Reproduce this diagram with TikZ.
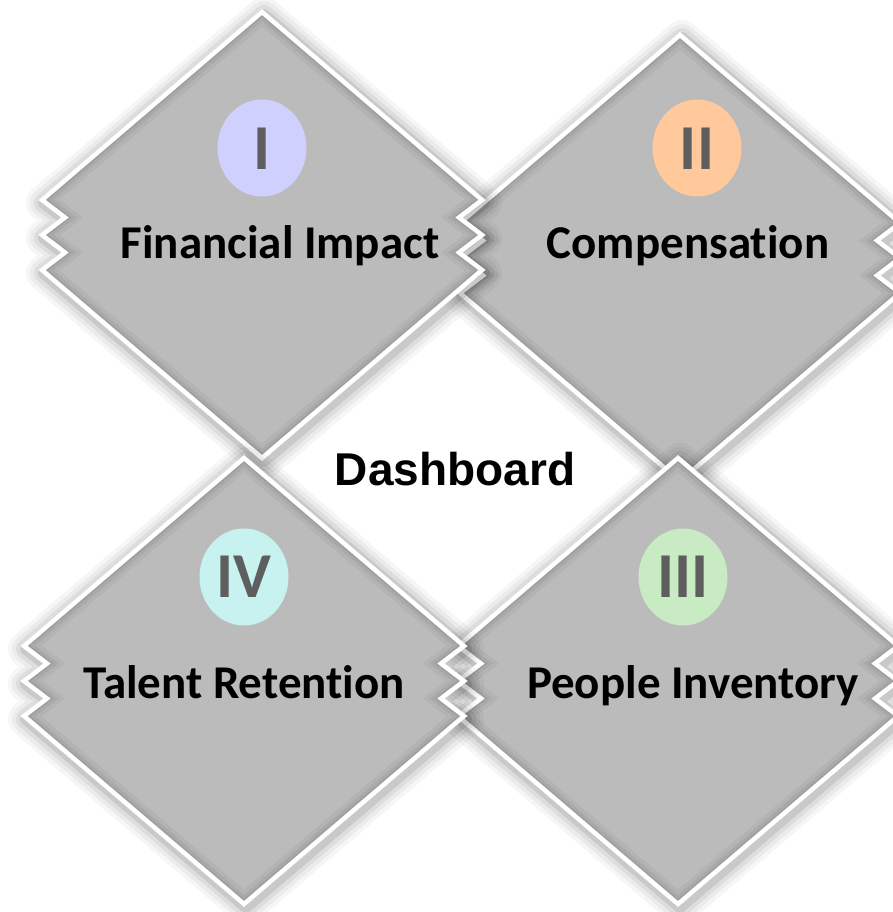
\documentclass[tikz,border=0pt]{standalone}
\usepackage{fontspec}
\setmainfont{Carlito}[Ligatures={NoCommon}]
\newfontfamily\headfont{Liberation Sans}
\usetikzlibrary{shapes.geometric}

\definecolor{tilegray}{HTML}{BBBBBB}
\definecolor{numgray}{HTML}{5E5E5E}
\definecolor{badgeI}{HTML}{D0D0FF}
\definecolor{badgeII}{HTML}{FFC99B}
\definecolor{badgeIII}{HTML}{C8EBC3}
\definecolor{badgeIV}{HTML}{C8F2F0}

% diamond with notched left and right corners, centred on the origin
\newcommand\tileoutline{(0,-223) -- (220,-35) -- (197,-17.5) -- (220,0) -- (197,17.5) -- (220,35) -- (0,223) -- (-220,35) -- (-197,17.5) -- (-220,0) -- (-197,-17.5) -- (-220,-35) -- cycle}

\newcommand\tile[2]{%
  \begin{scope}[shift={(#1,#2)}]
    % soft outer glow
    \foreach \w/\o in {36/0.035,28/0.045,20/0.06,12/0.09} {
      \draw[line join=round, draw=black, line width=\w pt, draw opacity=\o, shift={(2,3)}] \tileoutline;
    }
    \fill[tilegray] \tileoutline;
    % inner bevel
    \begin{scope}
      \clip \tileoutline;
      \foreach \w/\o in {22/0.04,14/0.05,8/0.06} {
        \draw[line join=miter, draw=black, line width=\w pt, draw opacity=\o] \tileoutline;
      }
    \end{scope}
    \draw[draw=white, line width=4.5pt, line join=miter] \tileoutline;
  \end{scope}}

\tikzset{
  caption/.style={anchor=base, inner sep=0pt, font=\fontsize{47}{56}\selectfont\bfseries, text=black},
  badge/.style={ellipse, minimum width=89pt, minimum height=97pt, inner sep=0pt},
  numeral/.style={anchor=base, inner sep=0pt, font=\fontsize{64}{70}\selectfont\bfseries, text=numgray},
  title/.style={anchor=base, inner sep=0pt, font=\headfont\fontsize{46}{52}\selectfont\bfseries, text=black}
}

\begin{document}
\begin{tikzpicture}[x=1pt,y=-1pt]
  \useasboundingbox (0,0) rectangle (893,912);
  \clip (0,0) rectangle (893,912);
  \fill[white] (0,0) rectangle (893,912);

  % tiles, back to front
  \tile{680}{258}
  \tile{262}{235}
  \tile{678}{681}
  \tile{244}{681}

  % numbered badges
  \node[badge, fill=badgeI]   (bI)   at (262,148) {};
  \node[badge, fill=badgeII]  (bII)  at (697,148) {};
  \node[badge, fill=badgeIII] (bIII) at (683,577) {};
  \node[badge, fill=badgeIV]  (bIV)  at (244,577) {};
  \node[numeral] (nI)   at (262,170) {I};
  \node[numeral] (nII)  at (697,170) {II};
  \node[numeral] (nIII) at (683,597.5) {III};
  \node[numeral] (nIV)  at (244,597.5) {IV};

  % captions
  \node[caption] (fin)  at (280,258) {Financial Impact};
  \node[caption] (comp) at (688,258) {Compensation};
  \node[caption] (tal)  at (244,698) {Talent Retention};
  \node[caption] (ppl)  at (693,698) {People Inventory};

  \node[title] (dash) at (455,485) {Dashboard};
\end{tikzpicture}
\end{document}
